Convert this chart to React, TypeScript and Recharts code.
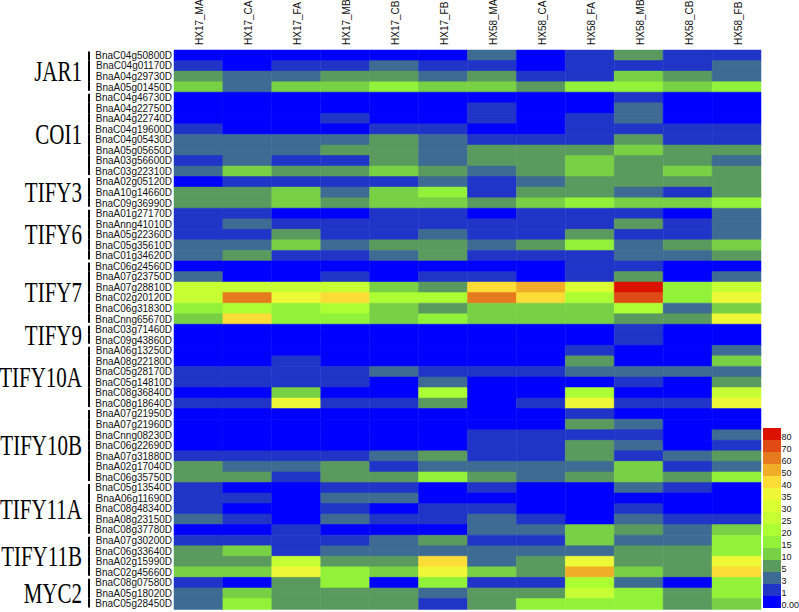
import React from "react"
import { Bar, BarChart, Cell, XAxis, YAxis } from "recharts"

const samples = ["HX17_MA", "HX17_CA", "HX17_FA", "HX17_MB", "HX17_CB", "HX17_FB",
  "HX58_MA", "HX58_CA", "HX58_FA", "HX58_MB", "HX58_CB", "HX58_FB"]

// legend bins: lower bound of each colour step
const thresholds = [0, 1, 3, 5, 10, 15, 20, 25, 30, 35, 40, 50, 60, 70, 80]
const legendLabels = ["0.00", "1", "3", "5", "10", "15", "20", "25", "30", "35", "40", "50", "60", "70", "80"]
const binColors = ["#0000ff", "#2035c8", "#3d6b94", "#5a9a5e", "#78d045", "#92f23a", "#acff33",
  "#c6ff33", "#dcff33", "#eef836", "#fcdc36", "#f0ae28", "#e67a1e", "#e04a14", "#dc1200"]

const jar1Genes = ["BnaC04g50800D", "BnaC04g01170D", "BnaA04g29730D", "BnaA05g01450D"]
const jar1Values = [
  [0.4, 0.4, 0.4, 0.4, 0.4, 0.4, 4, 0.4, 2, 7, 2, 2],
  [2, 0.4, 2, 2, 4, 2, 2, 0.4, 2, 2, 2, 4],
  [7, 4, 4, 7, 7, 4, 7, 2, 2, 12, 7, 4],
  [12, 4, 12, 12, 17, 12, 12, 7, 17, 17, 12, 17],
]

const coi1Genes = ["BnaC04g46730D", "BnaA04g22750D", "BnaA04g22740D", "BnaC04g19600D",
  "BnaC04g05430D", "BnaA05g05650D", "BnaA03g56600D", "BnaC03g22310D"]
const coi1Values = [
  [0.4, 0.4, 0.4, 0.4, 0.4, 0.4, 0.4, 0.4, 0.4, 2, 0.4, 0.4],
  [0.4, 0.4, 0.4, 0.4, 0.4, 0.4, 2, 0.4, 0.4, 4, 0.4, 0.4],
  [0.4, 0.4, 0.4, 2, 0.4, 0.4, 2, 0.4, 2, 4, 0.4, 0.4],
  [2, 0.4, 0.4, 0.4, 2, 2, 0.4, 0.4, 2, 2, 2, 2],
  [4, 4, 4, 4, 7, 4, 2, 2, 2, 7, 2, 2],
  [4, 4, 4, 7, 7, 4, 7, 7, 7, 12, 7, 7],
  [2, 4, 2, 2, 7, 4, 7, 7, 12, 7, 7, 4],
  [4, 12, 7, 7, 12, 7, 4, 7, 12, 7, 12, 7],
]

const tify3Genes = ["BnaA02g05120D", "BnaA10g14660D", "BnaC09g36990D"]
const tify3Values = [
  [0.4, 2, 2, 2, 2, 4, 2, 4, 7, 7, 7, 7],
  [7, 7, 12, 4, 12, 17, 2, 7, 7, 4, 2, 7],
  [7, 7, 12, 7, 12, 12, 7, 12, 17, 12, 12, 17],
]

const tify6Genes = ["BnaA01g27170D", "BnaAnng41010D", "BnaA05g22360D", "BnaC05g35610D", "BnaC01g34620D"]
const tify6Values = [
  [2, 2, 0.4, 0.4, 2, 2, 0.4, 2, 2, 2, 0.4, 4],
  [2, 4, 2, 2, 2, 2, 2, 2, 2, 7, 2, 4],
  [2, 2, 7, 2, 2, 4, 2, 2, 7, 2, 2, 4],
  [4, 4, 12, 4, 7, 7, 4, 7, 17, 4, 7, 12],
  [4, 7, 2, 2, 4, 7, 2, 2, 2, 4, 4, 7],
]

const tify7Genes = ["BnaC06g24560D", "BnaA07g23750D", "BnaA07g28810D", "BnaC02g20120D",
  "BnaC06g31830D", "BnaCnng65670D"]
const tify7Values = [
  [0.4, 0.4, 0.4, 0.4, 0.4, 0.4, 0.4, 0.4, 2, 2, 0.4, 0.4],
  [4, 0.4, 0.4, 2, 0.4, 2, 2, 0.4, 2, 7, 0.4, 4],
  [27, 27, 27, 27, 12, 7, 45, 55, 32, 85, 17, 27],
  [27, 65, 37, 45, 22, 22, 65, 45, 22, 75, 17, 37],
  [17, 22, 17, 22, 12, 7, 12, 12, 12, 22, 4, 12],
  [12, 45, 17, 17, 12, 17, 12, 12, 12, 7, 7, 37],
]

const tify9Genes = ["BnaC03g71460D", "BnaC09g43860D"]
const tify9Values = [
  [0.4, 0.4, 0.4, 0.4, 0.4, 0.4, 0.4, 0.4, 0.4, 2, 0.4, 0.4],
  [0.4, 0.4, 0.4, 0.4, 0.4, 0.4, 0.4, 0.4, 0.4, 2, 0.4, 0.4],
]

const tify10aGenes = ["BnaA06g13250D", "BnaA08g22180D", "BnaC05g28170D", "BnaC05g14810D",
  "BnaC08g36840D", "BnaC08g18640D"]
const tify10aValues = [
  [0.4, 0.4, 0.4, 0.4, 0.4, 0.4, 0.4, 0.4, 2, 0.4, 0.4, 4],
  [0.4, 0.4, 2, 0.4, 0.4, 0.4, 0.4, 0.4, 7, 0.4, 0.4, 12],
  [2, 2, 2, 2, 4, 2, 2, 2, 4, 4, 4, 4],
  [2, 2, 2, 2, 0.4, 4, 0.4, 0.4, 0.4, 2, 0.4, 7],
  [0.4, 0.4, 12, 0.4, 0.4, 22, 0.4, 0.4, 22, 0.4, 0.4, 27],
  [2, 2, 37, 2, 2, 7, 0.4, 2, 37, 2, 2, 37],
]

const tify10bGenes = ["BnaA07g21950D", "BnaA07g21960D", "BnaCnng08230D", "BnaC06g22690D",
  "BnaA07g31880D", "BnaA02g17040D", "BnaC06g35750D"]
const tify10bValues = [
  [0.4, 0.4, 0.4, 0.4, 0.4, 0.4, 0.4, 0.4, 2, 0.4, 0.4, 0.4],
  [0.4, 0.4, 0.4, 0.4, 0.4, 0.4, 0.4, 0.4, 7, 4, 0.4, 0.4],
  [0.4, 0.4, 0.4, 0.4, 0.4, 0.4, 2, 2, 2, 2, 0.4, 4],
  [0.4, 0.4, 0.4, 0.4, 0.4, 0.4, 2, 2, 7, 4, 0.4, 2],
  [2, 2, 2, 2, 4, 7, 2, 2, 7, 2, 4, 7],
  [7, 4, 4, 7, 2, 4, 4, 4, 4, 12, 2, 4],
  [7, 7, 2, 7, 7, 17, 7, 4, 7, 12, 7, 17],
]

const tify11aGenes = ["BnaC05g13540D", "BnaA06g11690D", "BnaC08g48340D", "BnaA08g23150D", "BnaC08g37780D"]
const tify11aValues = [
  [2, 0.4, 0.4, 2, 2, 0.4, 2, 0.4, 0.4, 4, 2, 0.4],
  [2, 2, 0.4, 4, 4, 0.4, 0.4, 0.4, 0.4, 0.4, 0.4, 0.4],
  [2, 0.4, 0.4, 2, 0.4, 2, 2, 0.4, 0.4, 2, 0.4, 0.4],
  [4, 2, 0.4, 4, 2, 2, 4, 2, 0.4, 4, 2, 2],
  [0.4, 0.4, 2, 0.4, 0.4, 0.4, 4, 4, 12, 7, 4, 12],
]

const tify11bGenes = ["BnaA07g30200D", "BnaC06g33640D", "BnaA02g15990D", "BnaC02g45660D"]
const tify11bValues = [
  [2, 2, 2, 2, 4, 7, 2, 2, 12, 4, 4, 17],
  [7, 12, 2, 4, 4, 4, 4, 4, 4, 7, 7, 17],
  [7, 7, 27, 7, 7, 45, 4, 7, 37, 7, 7, 37],
  [12, 12, 37, 17, 12, 37, 12, 7, 55, 12, 7, 45],
]

const myc2Genes = ["BnaC08g07580D", "BnaA05g18020D", "BnaC05g28450D"]
const myc2Values = [
  [2, 0.4, 7, 17, 0.4, 17, 2, 2, 22, 4, 0.4, 17],
  [4, 12, 7, 7, 7, 4, 7, 7, 27, 17, 7, 17],
  [4, 17, 7, 7, 7, 2, 7, 17, 17, 17, 7, 12],
]

const families = [
  { name: "JAR1", genes: jar1Genes, values: jar1Values },
  { name: "COI1", genes: coi1Genes, values: coi1Values },
  { name: "TIFY3", genes: tify3Genes, values: tify3Values },
  { name: "TIFY6", genes: tify6Genes, values: tify6Values },
  { name: "TIFY7", genes: tify7Genes, values: tify7Values },
  { name: "TIFY9", genes: tify9Genes, values: tify9Values },
  { name: "TIFY10A", genes: tify10aGenes, values: tify10aValues },
  { name: "TIFY10B", genes: tify10bGenes, values: tify10bValues },
  { name: "TIFY11A", genes: tify11aGenes, values: tify11aValues },
  { name: "TIFY11B", genes: tify11bGenes, values: tify11bValues },
  { name: "MYC2", genes: myc2Genes, values: myc2Values },
]

const WIDTH = 799
const HEIGHT = 612
const TOP = 50
const BOTTOM_MARGIN = 3
const sans = "Arial, 'Liberation Sans', sans-serif"
const serif = "'Times New Roman', 'Liberation Serif', serif"

const rows = families.flatMap(f => f.genes.map((gene, i) => {
  const row: any = { gene, family: f.name, idx: i, size: f.genes.length, values: f.values[i] }
  samples.forEach((_, j) => { row[`c${j}`] = 1 })
  return row
}))

const rowH = (HEIGHT - TOP - BOTTOM_MARGIN) / rows.length

const colorFor = (v: number) => {
  let k = 0
  thresholds.forEach((t, i) => { if (v >= t) k = i })
  return binColors[k]
}

const GeneTick = (props: any) => {
  const { x, y, payload } = props
  const r = rows[payload.index]
  if (!r) return null
  const first = r.idx === 0
  const last = r.idx === r.size - 1
  const y1 = y - rowH / 2 + (first ? 1.5 : 0)
  const y2 = y + rowH / 2 - (last ? 1.5 : 0)
  return (
    <g>
      <text x={x} y={y} dy="0.36em" textAnchor="end" fontSize={10} fontFamily={sans} fill="#111">
        {payload.value}
      </text>
      <line x1={89} x2={89} y1={y1} y2={y2} stroke="#000" strokeWidth={2} />
      {first && (
        <text
          transform={`translate(82, ${y + (r.size - 1) / 2 * rowH}) scale(1, 1.38)`}
          dy="0.34em"
          textAnchor="end"
          fontSize={21}
          fontFamily={serif}
          fill="#000">
          {r.family}
        </text>
      )}
    </g>
  )
}

const SampleTick = (props: any) => {
  const { x, payload } = props
  const name = samples[Math.floor(payload.value)]
  return (
    <text transform={`translate(${x + 5}, 45) rotate(-90)`} textAnchor="start"
      fontSize={10} fontFamily={sans} fill="#111">
      {name}
    </text>
  )
}

const ColorLegend = () => (
  <div style={{ position: "absolute", left: 763, top: 428 }}>
    {legendLabels.map((_, k) => {
      const i = legendLabels.length - 1 - k
      return (
        <div key={i} style={{ position: "absolute", left: 0, top: k * 12, width: 18, height: 12, background: binColors[i] }} />
      )
    })}
    {legendLabels.map((_, k) => {
      const i = legendLabels.length - 1 - k
      return (
        <div key={"l" + i} style={{ position: "absolute", left: 18.5, top: k * 12 + 4, fontSize: 9,
          lineHeight: "10px", fontFamily: sans, color: "#111", whiteSpace: "nowrap" }}>
          {legendLabels[i]}
        </div>
      )
    })}
  </div>
)

export default function App() {
  return (
    <div style={{ position: "absolute", left: 0, top: 0, width: WIDTH, height: HEIGHT, background: "#fff" }}>
      <BarChart
        width={WIDTH}
        height={HEIGHT}
        layout="vertical"
        data={rows}
        margin={{ top: 0, right: 38, bottom: BOTTOM_MARGIN, left: 0 }}
        barCategoryGap={0}>
        <XAxis
          type="number"
          orientation="top"
          domain={[0, 12]}
          ticks={samples.map((_, j) => j + 0.5)}
          interval={0}
          height={TOP}
          axisLine={false}
          tickLine={false}
          tickSize={0}
          tick={<SampleTick />} />
        <YAxis
          type="category"
          dataKey="gene"
          width={174}
          interval={0}
          axisLine={false}
          tickLine={false}
          tickSize={0}
          tickMargin={2}
          tick={<GeneTick />} />
        {samples.map((s, j) => (
          <Bar key={s} dataKey={`c${j}`} stackId="a" isAnimationActive={false}>
            {rows.map((r, i) => (
              <Cell key={i} fill={colorFor(r.values[j])} stroke={colorFor(r.values[j])} strokeWidth={0.5} />
            ))}
          </Bar>
        ))}
      </BarChart>
      <ColorLegend />
    </div>
  )
}
